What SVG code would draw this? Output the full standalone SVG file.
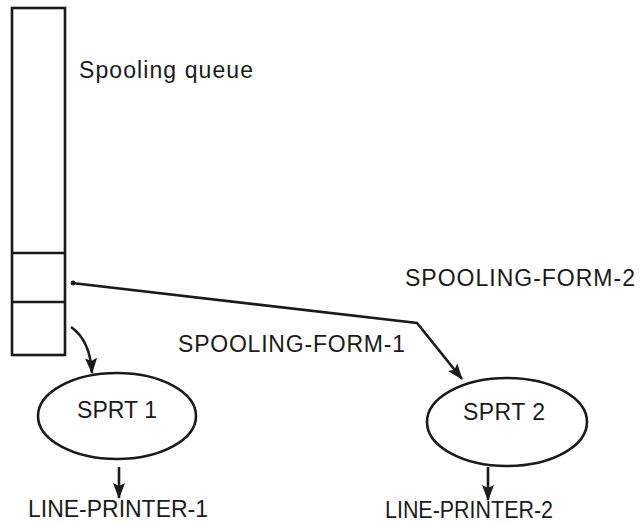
<svg xmlns="http://www.w3.org/2000/svg" width="641" height="524" viewBox="0 0 641 524">
<defs>
<marker id="ah" markerWidth="16" markerHeight="14" refX="15" refY="7" orient="auto" markerUnits="userSpaceOnUse">
<path d="M0,1 L16,7 L0,13 L3,7 Z" fill="#1a1a1a"/>
</marker>
<style>
.s{fill:none;stroke:#1a1a1a;stroke-width:2.6}
.c{fill:none;stroke:#1a1a1a;stroke-width:2.6;marker-end:url(#ah)}
.t{font-family:"Liberation Sans",Arial,sans-serif;font-size:23px;fill:#1a1a1a}
</style>
</defs>
<rect width="641" height="524" fill="#fff"/>
<g id="queue">
<rect class="s" x="12" y="8" width="53" height="347"/>
<line class="s" x1="12" y1="253" x2="65" y2="253"/>
<line class="s" x1="12" y1="302" x2="65" y2="302"/>
<text class="t" x="79" y="78" textLength="174" lengthAdjust="spacing">Spooling queue</text>
</g>
<g id="sprt1">
<ellipse class="s" cx="117" cy="416" rx="79" ry="43"/>
<text class="t" x="77" y="418" textLength="80" lengthAdjust="spacing">SPRT 1</text>
</g>
<g id="sprt2">
<ellipse class="s" cx="507" cy="422" rx="80" ry="44"/>
<text class="t" x="463" y="420" textLength="82" lengthAdjust="spacing">SPRT 2</text>
</g>
<g id="lp1">
<text class="t" x="28" y="517" textLength="180" lengthAdjust="spacing">LINE-PRINTER-1</text>
</g>
<g id="lp2">
<text class="t" x="385" y="518" font-size="22" textLength="168" lengthAdjust="spacingAndGlyphs">LINE-PRINTER-2</text>
</g>
<g id="labels">
<text class="t" x="405" y="286" textLength="230" lengthAdjust="spacing">SPOOLING-FORM-2</text>
<text class="t" x="178" y="352" textLength="227" lengthAdjust="spacing">SPOOLING-FORM-1</text>
</g>
<g id="connectors">
<circle cx="73" cy="283" r="2.4" fill="#1a1a1a"/>
<path class="c" d="M72,283 L417,323 L462,379"/>
<path class="c" d="M71,327 Q90,340 92,373"/>
<path class="c" d="M119,467 L119,498"/>
<path class="c" d="M488,467 L488,500"/>
</g>
</svg>
